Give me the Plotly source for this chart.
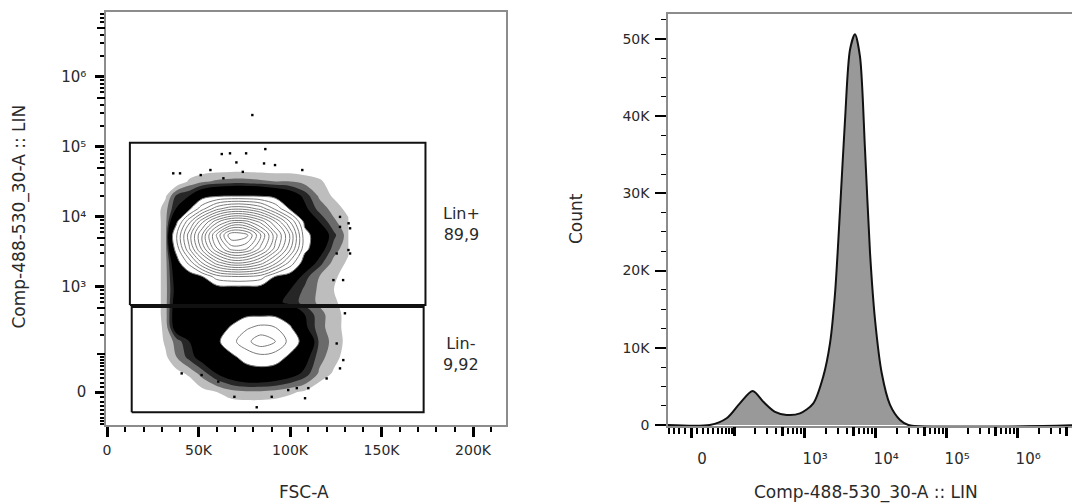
import numpy as np
import plotly.graph_objects as go

# ---------------------------------------------------------------- data
# Left panel: FSC-A vs Comp-488-530_30-A :: LIN, event density read on a grid
fsc_grid = [25000, 32000, 38000, 45000, 52000, 60000, 68000, 76000, 84000,
            92000, 100000, 108000, 116000, 124000, 132000]
lin_grid = [-120, -40, 0, 40, 90, 160, 260, 400, 600, 900, 1400, 2200, 3500,
            5500, 8500, 13000, 20000, 32000, 55000]
density = [
    [0, 0, 0, 0, 0, 0, 0, 0, 0, 0, 0, 0, 0, 0, 0],
    [0, 0, 0, 0, 0, 0, 0, 0, 0, 0, 0, 0, 0, 0, 0],
    [0, 0, 0, 0, 0.15, 0.25, 0.4, 0.45, 0.45, 0.4, 0.3, 0.2, 0, 0, 0],
    [0, 0, 0.15, 0.3, 0.6, 1.0, 1.3, 1.5, 1.5, 1.4, 1.2, 0.9, 0.45, 0.2, 0],
    [0, 0.2, 0.5, 0.85, 1.2, 1.3, 1.8, 2.35, 2.68, 2.5, 1.8, 1.2, 0.6, 0.35, 0.1],
    [0, 0.3, 0.6, 1.0, 1.3, 1.8, 2.65, 3.67, 4.64, 4.0, 2.65, 1.6, 0.7, 0.4, 0.15],
    [0, 0.35, 1.3, 1.3, 1.3, 1.5, 2.1, 2.83, 3.26, 3.0, 2.1, 1.1, 0.6, 0.35, 0.15],
    [0, 0.4, 1.4, 1.4, 1.4, 1.4, 1.5, 1.8, 1.8, 1.8, 1.5, 1.0, 0.6, 0.35, 0.15],
    [0, 0.4, 1.3, 1.3, 1.3, 1.3, 1.1, 1.1, 1.1, 1.1, 0.9, 0.65, 0.45, 0.3, 0.1],
    [0, 0.4, 1.2, 1.2, 1.2, 1.2, 1.2, 1.2, 1.2, 1.2, 1.0, 0.7, 0.45, 0.25, 0.1],
    [0, 0.4, 1.3, 1.3, 1.92, 3.5, 3.9, 3.9, 3.5, 1.9, 1.4, 0.85, 0.5, 0.3, 0.1],
    [0, 0.4, 1.5, 3.3, 6.0, 8.5, 9.9, 9.8, 8.5, 6.25, 3.6, 1.4, 0.86, 0.4, 0.2],
    [0, 0.4, 2.4, 5.9, 9.3, 12.9, 15.4, 15.1, 12.7, 9.6, 6.2, 2.3, 1.24, 0.63, 0.3],
    [0, 0.4, 2.93, 6.55, 10.1, 14.2, 17.9, 17.4, 14.0, 10.4, 6.9, 2.4, 1.35, 0.82, 0.35],
    [0, 0.4, 1.8, 4.75, 7.8, 10.75, 12.5, 12.4, 10.7, 8.05, 5.0, 1.7, 1.0, 0.55, 0.3],
    [0, 0.4, 1.03, 1.8, 3.65, 5.7, 6.8, 6.7, 5.7, 3.8, 1.86, 1.1, 0.65, 0.4, 0.15],
    [0, 0.2, 0.8, 1.0, 1.5, 1.8, 1.9, 1.9, 1.85, 1.6, 1.3, 0.9, 0.45, 0.2, 0],
    [0, 0, 0, 0.3, 0.45, 0.55, 0.6, 0.6, 0.55, 0.5, 0.5, 0.4, 0.3, 0.1, 0],
    [0, 0, 0, 0, 0, 0, 0, 0, 0, 0, 0, 0, 0, 0, 0],
]

# isolated events outside the dense cloud
outlier_fsc = [79400, 67200, 76000, 86500, 70700, 85800, 91800, 74200, 106700,
               39900, 51200, 56500, 63600, 62700, 36200, 132800, 132000, 127300,
               131900, 132800, 129000, 123700, 127300, 125500, 81800, 69600,
               90000, 108200, 110000, 127300, 129100, 40800, 51700, 60800,
               99000, 120000, 125500, 130000, 103700]
outlier_lin = [285000, 80900, 80900, 93000, 60000, 58000, 55000, 44000, 46700,
               41900, 39600, 46700, 35600, 79000, 41900, 6870, 8100, 10000,
               3360, 3000, 1250, 1250, 7200, 3000, -33, -10,
               -10, -13, 8, 54, 79, 41, 37, 22,
               4, 29, 149, 417, 8]

# gates
gate_names = ["Lin+", "Lin-"]
gate_pct = ["89,9", "9,92"]
gate_fsc_lo = [12500, 13500]
gate_fsc_hi = [174000, 173000]
gate_lin_lo = [550, -45]
gate_lin_hi = [115000, 515]

# Right panel: histogram of Comp-488-530_30-A :: LIN
hist_x = [-45, 33, 73, 119, 185, 264, 387, 566, 873, 1346, 1861, 2314, 2720,
          3200, 3763, 4423, 5205, 6120, 7205, 8472, 9970, 12390, 16210, 22420,
          29370, 9000000]
hist_count = [0, 0, 870, 2800, 4400, 3000, 1700, 1300, 1500, 2800, 6300, 10600,
              17000, 27800, 39500, 48600, 50600, 47700, 35600, 22300, 13600,
              6700, 2600, 650, 0, 0]

# tick labels
fsc_tick_vals = [0, 50000, 100000, 150000, 200000]
fsc_tick_text = ["0", "50K", "100K", "150K", "200K"]
count_tick_vals = [0, 10000, 20000, 30000, 40000, 50000]
count_tick_text = ["0", "10K", "20K", "30K", "40K", "50K"]
log_label_vals = [0, 1000, 10000, 100000, 1000000]
log_label_text = ["0", "10\u00b3", "10\u2074", "10\u2075", "10\u2076"]
log_mid_vals = [100, 500, 5000, 50000, 500000, 5000000]

# ---------------------------------------------------------------- scales
LN10 = np.log(10.0)
W_LIN_Y = 63.0    # biexponential width of the dot-plot y axis
W_HIST_X = 51.0   # biexponential width of the histogram x axis


def biex(v, w):
    return np.arcsinh(np.asarray(v, dtype=float) / w) / LN10


def biex_minor(w, neg_max):
    minor = [m * 10 for m in range(1, 10)]
    minor += [-m * 10 for m in range(1, neg_max + 1)]
    minor += [m * 10 ** k for k in range(2, 7) for m in (2, 3, 4, 6, 7, 8, 9)]
    return [float(x) for x in biex(minor, w)]


FONT = "DejaVu Sans"
TXT = "#2a2a2a"
FRAME = "#8c8c8c"

fig = go.Figure()

# ---- left panel: dense-event fill (speckle -> black) with white cores
lin_t = biex(lin_grid, W_LIN_Y)
step_scale = [
    [0.0, "rgba(255,255,255,0)"], [0.0625, "rgba(255,255,255,0)"],
    [0.0625, "#bdbdbd"], [0.1875, "#bdbdbd"],
    [0.1875, "#6a6a6a"], [0.3125, "#6a6a6a"],
    [0.3125, "#262626"], [0.4375, "#262626"],
    [0.4375, "#000000"], [0.9375, "#000000"],
    [0.9375, "#ffffff"], [1.0, "#ffffff"],
]
fig.add_trace(go.Contour(
    x=fsc_grid, y=lin_t, z=density, xaxis="x", yaxis="y",
    autocontour=False,
    contours=dict(start=0.25, end=2.0, size=0.25, coloring="fill", showlines=False),
    line=dict(width=0, smoothing=1.0),
    colorscale=step_scale, showscale=False, hoverinfo="skip",
))
fig.add_trace(go.Contour(
    x=fsc_grid, y=lin_t, z=density, xaxis="x", yaxis="y",
    autocontour=False,
    contours=dict(start=2, end=20, size=1, coloring="none", showlines=True),
    line=dict(color="#7a7a7a", width=1, smoothing=1.0),
    showscale=False, hoverinfo="skip",
))
fig.add_trace(go.Scatter(
    x=outlier_fsc, y=biex(outlier_lin, W_LIN_Y), xaxis="x", yaxis="y",
    mode="markers", marker=dict(symbol="square", size=2.4, color="black", line=dict(width=0)),
    hoverinfo="skip", showlegend=False,
))

# gates
for i in range(len(gate_names)):
    x0, x1 = gate_fsc_lo[i], gate_fsc_hi[i]
    y0, y1 = gate_lin_lo[i], gate_lin_hi[i]
    fig.add_trace(go.Scatter(
        x=[x0, x1, x1, x0, x0], y=biex([y0, y0, y1, y1, y0], W_LIN_Y),
        xaxis="x", yaxis="y", mode="lines",
        line=dict(color="#111111", width=2), hoverinfo="skip", showlegend=False,
    ))

# ---- right panel: histogram
fig.add_trace(go.Scatter(
    x=biex(hist_x, W_HIST_X), y=hist_count, xaxis="x2", yaxis="y2",
    mode="lines", line=dict(color="#111111", width=2, shape="spline", smoothing=0.8),
    fill="tozeroy", fillcolor="#999999", hoverinfo="skip", showlegend=False,
))

# empty carriers so the overlay tick axes (5x decade ticks) are drawn
fig.add_trace(go.Scatter(x=[], y=[], xaxis="x", yaxis="y3", showlegend=False, hoverinfo="skip"))
fig.add_trace(go.Scatter(x=[], y=[], xaxis="x3", yaxis="y2", showlegend=False, hoverinfo="skip"))

# ---------------------------------------------------------------- axes
ly_minor = biex_minor(W_LIN_Y, 8)
hx_minor = biex_minor(W_HIST_X, 4)

tickfont = dict(family=FONT, size=14, color=TXT)
biex_font = dict(family=FONT, size=15, color=TXT)
common = dict(showgrid=False, zeroline=False, showline=True, linecolor=FRAME,
              linewidth=1.5, ticks="outside", tickcolor="black",
              tickmode="array", automargin=False)
bare = dict(showgrid=False, zeroline=False, showline=False, ticks="outside",
            tickcolor="black", showticklabels=False, tickmode="array", automargin=False)

W, H = 1072, 504
Y_RANGE = [-0.4714, 5.4286]
X2_RANGE = [-0.324, 5.366]
fig.update_layout(
    width=W, height=H, margin=dict(l=0, r=0, t=0, b=0, autoexpand=False),
    paper_bgcolor="white", plot_bgcolor="white", showlegend=False,
    xaxis=dict(**common, domain=[106 / W, 506 / W], anchor="y", mirror=True,
               range=[-550, 218000], tickvals=fsc_tick_vals, ticktext=fsc_tick_text,
               tickfont=tickfont, ticklen=10, tickwidth=3, ticklabelstandoff=1,
               minor=dict(tickmode="array",
                          tickvals=[k * 10000 for k in range(1, 22) if k % 5 != 0],
                          ticks="outside", ticklen=5, tickwidth=1.5, tickcolor="black")),
    yaxis=dict(**common, domain=[1 - 425 / H, 1 - 12 / H], anchor="x", mirror=True,
               range=Y_RANGE, tickvals=[float(v) for v in biex(log_label_vals, W_LIN_Y)],
               ticktext=log_label_text, tickfont=biex_font, ticklen=9, tickwidth=2.5,
               ticklabelstandoff=6,
               minor=dict(tickmode="array", tickvals=ly_minor, ticks="outside",
                          ticklen=4, tickwidth=1.5, tickcolor="black")),
    yaxis3=dict(**bare, overlaying="y", anchor="x", side="left", range=Y_RANGE,
                tickvals=[float(v) for v in biex(log_mid_vals, W_LIN_Y)],
                ticklen=8, tickwidth=2.4),
    xaxis2=dict(**common, domain=[668 / W, 1.0], anchor="y2", mirror=True,
                range=X2_RANGE, tickvals=[float(v) for v in biex(log_label_vals, W_HIST_X)],
                ticktext=log_label_text, tickfont=biex_font, ticklen=10, tickwidth=2.5,
                ticklabelshift=11, ticklabelstandoff=8,
                minor=dict(tickmode="array", tickvals=hx_minor, ticks="outside",
                           ticklen=6, tickwidth=1.6, tickcolor="black")),
    xaxis3=dict(**bare, overlaying="x2", anchor="y2", side="bottom", range=X2_RANGE,
                tickvals=[float(v) for v in biex(log_mid_vals, W_HIST_X)],
                ticklen=9, tickwidth=2.6),
    yaxis2=dict(**common, domain=[1 - 426 / H, 1 - 13.5 / H], anchor="x2", mirror=False,
                range=[-130, 53300], tickvals=count_tick_vals, ticktext=count_tick_text,
                tickfont=tickfont, ticklen=11, tickwidth=2, ticklabelstandoff=3,
                minor=dict(tickmode="array",
                           tickvals=[k * 2500 for k in range(1, 22) if k % 4 != 0],
                           ticks="outside", ticklen=5, tickwidth=1.2, tickcolor="black")),
)

# axis titles
title_font = dict(family=FONT, size=17, color=TXT)
fig.add_annotation(text="FSC-A", xref="paper", yref="paper", x=304 / W, y=1 - 492 / H,
                   showarrow=False, font=title_font, xanchor="center", yanchor="middle")
fig.add_annotation(text="Comp-488-530_30-A :: LIN", xref="paper", yref="paper",
                   x=18.5 / W, y=1 - 217 / H, textangle=-90, showarrow=False,
                   font=title_font, xanchor="center", yanchor="middle")
fig.add_annotation(text="Count", xref="paper", yref="paper", x=575.5 / W, y=1 - 218.5 / H,
                   textangle=-90, showarrow=False, font=title_font,
                   xanchor="center", yanchor="middle")
fig.add_annotation(text="Comp-488-530_30-A :: LIN", xref="paper", yref="paper",
                   x=866 / W, y=1 - 492 / H, showarrow=False, font=title_font,
                   xanchor="center", yanchor="middle")

# gate labels
label_shift_x = [36, 37.5]
label_shift_y = [0, 5.5]
for i in range(len(gate_names)):
    mid = (biex(gate_lin_lo[i], W_LIN_Y) + biex(gate_lin_hi[i], W_LIN_Y)) / 2
    fig.add_annotation(text=gate_names[i] + "<br>" + gate_pct[i], x=gate_fsc_hi[i],
                       y=float(mid), xref="x", yref="y", showarrow=False,
                       xshift=label_shift_x[i], yshift=label_shift_y[i],
                       font=dict(family=FONT, size=16, color=TXT),
                       xanchor="center", yanchor="middle", align="center")

fig.write_html("out.html")
